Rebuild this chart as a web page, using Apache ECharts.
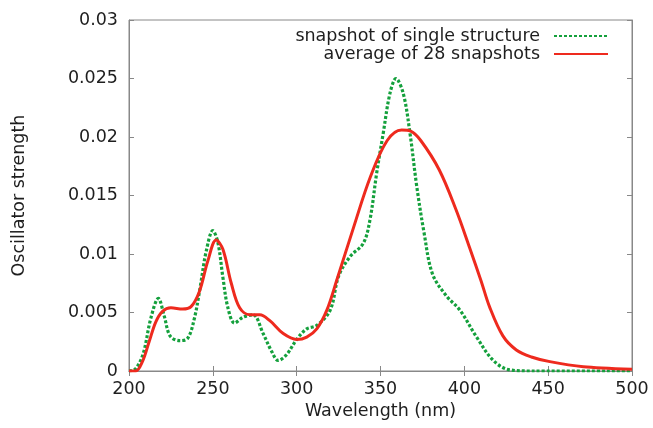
<!DOCTYPE html>
<html><head><meta charset="utf-8">
<script src="https://cdn.jsdelivr.net/npm/echarts@6/dist/echarts.min.js"></script>
<style>html,body{margin:0;padding:0;background:#fff}#c{width:653px;height:428px}</style>
</head><body><div id="c"></div>
<script>
// Wavelength (nm) / oscillator strength pairs
var singleWl = [200,204,208.5,213,217.5,221,224.5,230,235,239,242.5,246,250,253,256,259,263,268,274,280,285,289,294,300,306,312,320,325,332,339.7,343.7,347.7,351.6,355.6,359.2,363.6,367.6,371.6,376,381,389.4,397.4,407.3,417.3,427,440,500];
var singleF  = [0,0.0002,0.0015,0.0045,0.0062,0.0047,0.0030,0.0026,0.0028,0.0045,0.0072,0.0102,0.0120,0.0110,0.0080,0.0054,0.0041,0.0046,0.0048,0.0032,0.0017,0.0009,0.0014,0.0027,0.0036,0.0039,0.0052,0.0081,0.0098,0.0109,0.0129,0.0169,0.0203,0.0237,0.0250,0.0237,0.0203,0.0158,0.0118,0.0083,0.0064,0.0052,0.0029,0.0009,0.0001,0,0];
var avgWl = [200,204,208,212,216,220,225,232,237,242,247,252,256,261,266,272,278,284,292,300,306,312,318,324,334,344,354,362.6,368,374,385,395,403,410,415,423,431,440,451,471,500];
var avgF  = [0,0,0.0008,0.0025,0.0042,0.0051,0.0054,0.0053,0.0055,0.0068,0.0094,0.0112,0.0104,0.0075,0.0054,0.0048,0.0048,0.0043,0.0032,0.0027,0.0029,0.0036,0.0052,0.0078,0.0123,0.0166,0.0197,0.0206,0.0205,0.0197,0.0172,0.0138,0.0106,0.0077,0.0055,0.0030,0.0018,0.0012,0.0008,0.00037,0.00014];
var seriesNames = ['snapshot of single structure', 'average of 28 snapshots'];
var xTicks = [200, 500, 50];
var yTicks = [0, 0.03, 0.005];

function pairs(a, b) { return a.map(function (v, i) { return [v, b[i]]; }); }

var font = '"DejaVu Sans", Verdana, sans-serif';
var fs = 17.5;
var txtCol = '#1e1e1e';
var axisCol = '#888';
var chart = echarts.init(document.getElementById('c'), null, {renderer: 'canvas'});
var tickCommon = {show: true, inside: true, length: 5, lineStyle: {color: axisCol, width: 1}};
chart.setOption({
  animation: false,
  backgroundColor: '#fff',
  grid: {left: 129, right: 21, top: 20, bottom: 57, show: true, borderColor: axisCol, borderWidth: 1},
  legend: {
    orient: 'vertical', right: 39, top: 22, align: 'right',
    itemWidth: 54, itemHeight: 12, itemGap: 0,
    itemStyle: {opacity: 0},
    textStyle: {fontFamily: font, fontSize: fs, color: txtCol, padding: [0, 9, 0, 0]},
    data: seriesNames
  },
  xAxis: [{
    type: 'value', min: xTicks[0], max: xTicks[1], interval: xTicks[2],
    name: 'Wavelength (nm)', nameLocation: 'middle', nameGap: 31,
    nameTextStyle: {fontFamily: font, fontSize: fs, color: txtCol},
    axisLine: {show: true, lineStyle: {color: axisCol}},
    axisTick: tickCommon, splitLine: {show: false},
    axisLabel: {fontFamily: font, fontSize: fs, color: txtCol, margin: 9}
  }, {
    type: 'value', position: 'top', min: xTicks[0], max: xTicks[1], interval: xTicks[2],
    axisLine: {show: true, lineStyle: {color: axisCol}},
    axisTick: tickCommon, splitLine: {show: false}, axisLabel: {show: false}
  }],
  yAxis: [{
    type: 'value', min: yTicks[0], max: yTicks[1], interval: yTicks[2],
    name: 'Oscillator strength', nameLocation: 'middle', nameGap: 101, nameRotate: 90,
    nameTextStyle: {fontFamily: font, fontSize: fs, color: txtCol},
    axisLine: {show: true, lineStyle: {color: axisCol}},
    axisTick: tickCommon, splitLine: {show: false},
    axisLabel: {fontFamily: font, fontSize: fs, color: txtCol, margin: 11}
  }, {
    type: 'value', position: 'right', min: yTicks[0], max: yTicks[1], interval: yTicks[2],
    axisLine: {show: true, lineStyle: {color: axisCol}},
    axisTick: tickCommon, splitLine: {show: false}, axisLabel: {show: false}
  }],
  series: [{
    name: seriesNames[0], type: 'line', smooth: 0.35, showSymbol: false, symbol: 'none',
    data: pairs(singleWl, singleF), z: 3,
    itemStyle: {color: '#14a03c'},
    lineStyle: {color: '#14a03c', width: 3.2, type: [3, 2]}
  }, {
    name: seriesNames[1], type: 'line', smooth: 0.35, showSymbol: false, symbol: 'none',
    data: pairs(avgWl, avgF), z: 4,
    itemStyle: {color: '#ee2a1e'},
    lineStyle: {color: '#ee2a1e', width: 3}
  }]
});
</script></body></html>
